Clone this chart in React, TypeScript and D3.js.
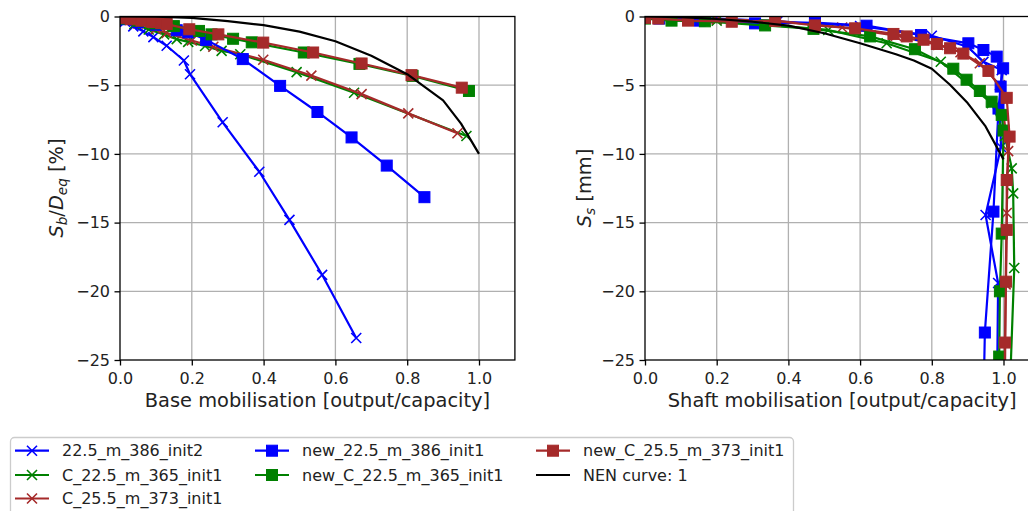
import React, { useEffect, useRef } from 'react';
import * as d3 from 'd3';

type Pt = [number, number];

const xTicks = [0, 0.2, 0.4, 0.6, 0.8, 1.0];
const yTicks = [0, -5, -10, -15, -20, -25];

const labels = [
  '22.5_m_386_init2',
  'C_22.5_m_365_init1',
  'C_25.5_m_373_init1',
  'new_22.5_m_386_init1',
  'new_C_22.5_m_365_init1',
  'new_C_25.5_m_373_init1',
  'NEN curve: 1',
];
const colors = ['#0000ff', '#008000', '#a52a2a', '#0000ff', '#008000', '#a52a2a', '#000000'];
const markers = ['x', 'x', 'x', 's', 's', 's', 'none'];

// base mobilisation [-] vs Sb/Deq [%]
const baseInit2: Pt[] = [[0, -0.15], [0.014, -0.38], [0.037, -0.72], [0.065, -1.08], [0.093, -1.5], [0.13, -2.13], [0.178, -3.2], [0.195, -4.2], [0.286, -7.7], [0.388, -11.3], [0.472, -14.8], [0.563, -18.8], [0.658, -23.4]];
const baseC225: Pt[] = [[0, -0.15], [0.04, -0.55], [0.08, -0.95], [0.123, -1.3], [0.158, -1.65], [0.19, -1.85], [0.237, -2.15], [0.283, -2.5], [0.335, -2.75], [0.492, -4.05], [0.652, -5.55], [0.965, -8.7]];
const baseC255: Pt[] = [[0, -0.15], [0.05, -0.5], [0.1, -0.9], [0.13, -1.2], [0.2, -1.75], [0.26, -2.2], [0.399, -3.15], [0.533, -4.3], [0.673, -5.65], [0.803, -7.05], [0.94, -8.5]];
const baseNew225: Pt[] = [[0, -0.2], [0.05, -0.4], [0.1, -0.6], [0.158, -1.0], [0.19, -1.15], [0.24, -1.7], [0.342, -3.1], [0.446, -5.05], [0.55, -6.95], [0.645, -8.8], [0.743, -10.85], [0.848, -13.15]];
const baseNewC225: Pt[] = [[0, -0.15], [0.05, -0.3], [0.1, -0.5], [0.15, -0.7], [0.22, -1.05], [0.255, -1.3], [0.315, -1.62], [0.367, -1.88], [0.512, -2.62], [0.667, -3.45], [0.815, -4.32], [0.972, -5.42]];
const baseNewC255: Pt[] = [[0, -0.1], [0.03, -0.2], [0.06, -0.3], [0.09, -0.4], [0.115, -0.47], [0.13, -0.55], [0.193, -0.93], [0.274, -1.3], [0.399, -1.9], [0.538, -2.62], [0.673, -3.42], [0.812, -4.27], [0.952, -5.18]];
const baseNen: Pt[] = [[0, 0], [0.1, -0.01], [0.2, -0.1], [0.3, -0.33], [0.4, -0.63], [0.5, -1.1], [0.6, -1.8], [0.7, -2.85], [0.8, -4.2], [0.9, -6.1], [0.95, -7.8], [1.0, -10]];

// shaft mobilisation [-] vs Ss [mm]
const shaftInit2: Pt[] = [[0, -0.05], [0.2, -0.15], [0.37, -0.35], [0.6, -0.7], [0.8, -1.4], [0.9, -2.2], [0.944, -3.3], [0.995, -3.9], [0.99, -6.6], [0.993, -9.5], [0.95, -14.45], [0.985, -19.4], [0.982, -27]];
const shaftC225: Pt[] = [[0, -0.1], [0.2, -0.3], [0.511, -0.98], [0.674, -1.95], [0.825, -3.29], [0.967, -6.3], [1.004, -8.7], [1.023, -11.05], [1.027, -12.87], [1.03, -18.3], [1.018, -27]];
const shaftC255: Pt[] = [[0, -0.05], [0.2, -0.2], [0.367, -0.32], [0.55, -0.8], [0.7, -1.4], [0.818, -2.07], [0.88, -2.6], [0.934, -3.4], [0.99, -5.0], [1.013, -9.8], [1.009, -14.3], [1.006, -19.5], [1.004, -27]];
const shaftNew225: Pt[] = [[0, -0.1], [0.04, -0.15], [0.153, -0.3], [0.307, -0.5], [0.474, -0.45], [0.618, -0.67], [0.77, -1.35], [0.902, -1.95], [0.944, -2.44], [0.981, -2.92], [0.999, -3.77], [0.992, -5.1], [0.986, -6.7], [0.972, -14.2], [0.948, -23.0], [0.945, -27]];
const shaftNewC225: Pt[] = [[0, -0.15], [0.074, -0.3], [0.167, -0.35], [0.335, -0.65], [0.47, -0.9], [0.628, -1.45], [0.753, -2.38], [0.86, -3.8], [0.897, -4.6], [0.934, -5.42], [0.967, -6.2], [0.995, -7.16], [1.0, -8.3], [0.995, -15.8], [0.99, -20.0], [0.988, -24.75]];
const shaftNewC255: Pt[] = [[0, -0.1], [0.037, -0.15], [0.12, -0.3], [0.242, -0.38], [0.363, -0.32], [0.474, -0.65], [0.586, -0.86], [0.693, -1.27], [0.73, -1.45], [0.777, -1.69], [0.814, -2.0], [0.851, -2.31], [0.888, -2.7], [0.958, -3.96], [1.009, -5.92], [1.017, -8.74], [1.009, -11.9], [1.009, -15.53], [1.007, -19.3], [1.004, -23.73], [1.003, -27]];
const shaftNen: Pt[] = [[0, 0], [0.1, -0.05], [0.2, -0.18], [0.3, -0.38], [0.4, -0.66], [0.5, -1.22], [0.6, -1.95], [0.7, -2.75], [0.75, -3.2], [0.8, -3.8], [0.85, -4.95], [0.9, -6.3], [0.95, -8.0], [1.0, -10.4]];

const baseSeries = [baseInit2, baseC225, baseC255, baseNew225, baseNewC225, baseNewC255, baseNen];
const shaftSeries = [shaftInit2, shaftC225, shaftC255, shaftNew225, shaftNewC225, shaftNewC255, shaftNen];

const FONT = 'DejaVu Sans';

function drawMarker(g: any, kind: string, color: string, cx: number, cy: number) {
  if (kind === 'x') {
    const s = 5;
    g.append('path')
      .attr('d', `M${cx - s},${cy - s}L${cx + s},${cy + s}M${cx - s},${cy + s}L${cx + s},${cy - s}`)
      .attr('stroke', color)
      .attr('stroke-width', 1.6)
      .attr('fill', 'none');
  } else if (kind === 's') {
    const s = 11;
    g.append('rect')
      .attr('x', cx - s / 2).attr('y', cy - s / 2)
      .attr('width', s).attr('height', s)
      .attr('fill', color)
      .attr('stroke', color)
      .attr('stroke-width', 1);
  }
}

function drawPanel(svg: any, id: number, left: number, unit: number, series: Pt[][], xLabel: string, yLabel: (t: any) => void, yLabelX: number) {
  const x = d3.scaleLinear().domain([0, 1.1]).range([left, left + 1.1 * unit]);
  const y = d3.scaleLinear().domain([-25, 0]).range([360, 16.5]);

  svg.append('defs').append('clipPath').attr('id', 'clip' + id)
    .append('rect')
    .attr('x', x(0)).attr('y', y(0))
    .attr('width', x(1.1) - x(0)).attr('height', y(-25) - y(0));

  const grid = svg.append('g');
  grid.selectAll('.vg').data(xTicks.slice(1)).join('line')
    .attr('x1', (d: number) => x(d)).attr('x2', (d: number) => x(d))
    .attr('y1', y(0)).attr('y2', y(-25))
    .attr('stroke', '#b0b0b0').attr('stroke-width', 1.3);
  grid.selectAll('.hg').data(yTicks.slice(1, -1)).join('line')
    .attr('x1', x(0)).attr('x2', x(1.1))
    .attr('y1', (d: number) => y(d)).attr('y2', (d: number) => y(d))
    .attr('stroke', '#b0b0b0').attr('stroke-width', 1.3);

  const plot = svg.append('g').attr('clip-path', `url(#clip${id})`);
  const line = d3.line<Pt>().x(d => x(d[0])).y(d => y(d[1]));
  series.forEach((data, i) => {
    plot.append('path')
      .datum(data)
      .attr('fill', 'none')
      .attr('stroke', colors[i])
      .attr('stroke-width', 2.2)
      .attr('stroke-linejoin', 'round')
      .attr('d', line);
    data.forEach(d => drawMarker(plot, markers[i], colors[i], x(d[0]), y(d[1])));
  });

  // frame
  svg.append('rect')
    .attr('x', x(0)).attr('y', y(0))
    .attr('width', x(1.1) - x(0)).attr('height', y(-25) - y(0))
    .attr('fill', 'none').attr('stroke', '#000').attr('stroke-width', 1.3);

  const xAxis = d3.axisBottom(x).tickValues(xTicks).tickSize(5.5).tickSizeOuter(0).tickPadding(7)
    .tickFormat((d: any) => d3.format('.1f')(d));
  const gx = svg.append('g').attr('transform', `translate(0,${y(-25)})`).call(xAxis);
  gx.select('.domain').remove();
  gx.selectAll('line').attr('stroke', '#000').attr('stroke-width', 1.3);
  gx.selectAll('text').attr('font-family', FONT).attr('font-size', 16).attr('fill', '#222');

  const yAxis = d3.axisLeft(y).tickValues(yTicks).tickSize(5.5).tickSizeOuter(0).tickPadding(4.5)
    .tickFormat((d: any) => (d < 0 ? '\u2212' + Math.abs(d) : String(d)));
  const gy = svg.append('g').attr('transform', `translate(${x(0)},0)`).call(yAxis);
  gy.select('.domain').remove();
  gy.selectAll('line').attr('stroke', '#000').attr('stroke-width', 1.3);
  gy.selectAll('text').attr('font-family', FONT).attr('font-size', 16).attr('fill', '#222');

  svg.append('text')
    .attr('x', (x(0) + x(1.1)) / 2)
    .attr('y', 406.5)
    .attr('text-anchor', 'middle')
    .attr('font-family', FONT)
    .attr('font-size', 19.4)
    .attr('fill', '#222')
    .text(xLabel);

  const yl = svg.append('text')
    .attr('transform', `translate(${yLabelX},188) rotate(-90)`)
    .attr('text-anchor', 'middle')
    .attr('font-family', FONT)
    .attr('font-size', 19.4)
    .attr('fill', '#222');
  yLabel(yl);
}

function drawLegend(svg: any) {
  const g = svg.append('g');
  g.append('rect')
    .attr('x', 10.5).attr('y', 437.5)
    .attr('width', 783).attr('height', 90)
    .attr('rx', 4)
    .attr('fill', '#fff').attr('fill-opacity', 0.8)
    .attr('stroke', '#cccccc').attr('stroke-width', 1.3);

  const rowY = [450.7, 475, 498.5];
  const colX = [15, 255, 536];
  const perCol = [3, 2, 2];
  let k = 0;
  perCol.forEach((n, c) => {
    for (let r = 0; r < n; r++, k++) {
      const cy = rowY[r];
      const x0 = colX[c];
      g.append('line')
        .attr('x1', x0).attr('x2', x0 + 34)
        .attr('y1', cy).attr('y2', cy)
        .attr('stroke', colors[k]).attr('stroke-width', 2.2);
      drawMarker(g, markers[k], colors[k], x0 + 17, cy);
      g.append('text')
        .attr('x', x0 + 47).attr('y', cy)
        .attr('dy', '0.36em')
        .attr('font-family', FONT)
        .attr('font-size', 16)
        .attr('fill', '#222')
        .text(labels[k]);
    }
  });
}

export default function App() {
  const ref = useRef<SVGSVGElement>(null);

  useEffect(() => {
    const svg = d3.select(ref.current);
    svg.selectAll('*').remove();

    drawPanel(svg, 0, 120, 359, baseSeries, 'Base mobilisation [output/capacity]', (t: any) => {
      t.append('tspan').attr('font-style', 'italic').text('S');
      t.append('tspan').attr('font-style', 'italic').attr('font-size', 13.6).attr('dy', 4).text('b');
      t.append('tspan').attr('dy', -4).text('/');
      t.append('tspan').attr('font-style', 'italic').text('D');
      t.append('tspan').attr('font-style', 'italic').attr('font-size', 13.6).attr('dy', 4).text('eq');
      t.append('tspan').attr('dy', -4).text(' [%]');
    }, 63);

    drawPanel(svg, 1, 645, 358.5, shaftSeries, 'Shaft mobilisation [output/capacity]', (t: any) => {
      t.append('tspan').attr('font-style', 'italic').text('S');
      t.append('tspan').attr('font-style', 'italic').attr('font-size', 13.6).attr('dy', 4).text('s');
      t.append('tspan').attr('dy', -4).text(' [mm]');
    }, 591);

    drawLegend(svg);
  }, []);

  return (
    <svg
      ref={ref}
      width={1028}
      height={511}
      style={{ position: 'absolute', left: 0, top: 0, background: '#fff' }}
    />
  );
}
